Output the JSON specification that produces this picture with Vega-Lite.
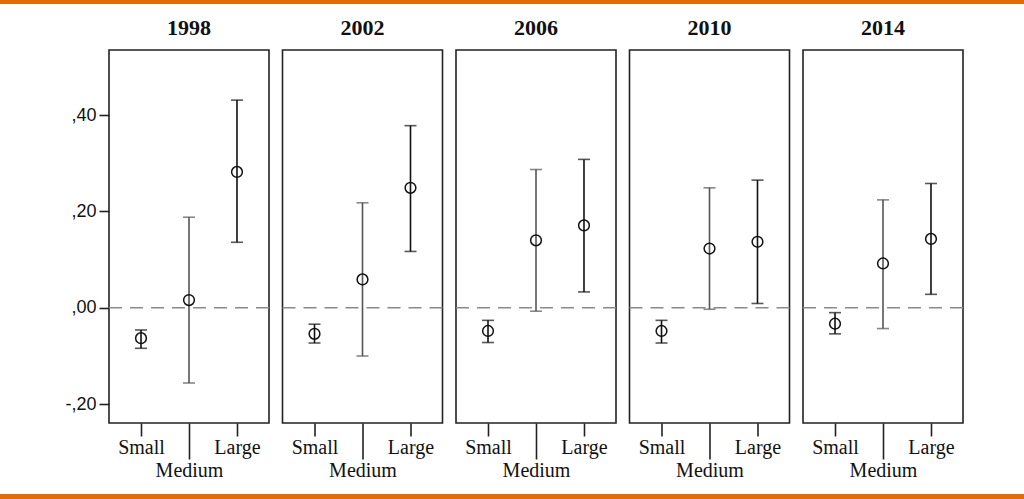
{
  "$schema": "https://vega.github.io/schema/vega-lite/v6.json",
  "padding": 0,
  "background": "white",
  "data": {
    "values": [
      {"year": 1998, "size": "Small", "mean": -0.063, "lo": -0.084, "hi": -0.046},
      {"year": 1998, "size": "Medium", "mean": 0.016, "lo": -0.156, "hi": 0.188},
      {"year": 1998, "size": "Large", "mean": 0.282, "lo": 0.136, "hi": 0.431},
      {"year": 2002, "size": "Small", "mean": -0.054, "lo": -0.073, "hi": -0.034},
      {"year": 2002, "size": "Medium", "mean": 0.059, "lo": -0.1, "hi": 0.218},
      {"year": 2002, "size": "Large", "mean": 0.249, "lo": 0.117, "hi": 0.378},
      {"year": 2006, "size": "Small", "mean": -0.048, "lo": -0.072, "hi": -0.026},
      {"year": 2006, "size": "Medium", "mean": 0.14, "lo": -0.007, "hi": 0.287},
      {"year": 2006, "size": "Large", "mean": 0.171, "lo": 0.033, "hi": 0.308},
      {"year": 2010, "size": "Small", "mean": -0.048, "lo": -0.073, "hi": -0.026},
      {"year": 2010, "size": "Medium", "mean": 0.123, "lo": -0.003, "hi": 0.249},
      {"year": 2010, "size": "Large", "mean": 0.137, "lo": 0.009, "hi": 0.265},
      {"year": 2014, "size": "Small", "mean": -0.033, "lo": -0.054, "hi": -0.01},
      {"year": 2014, "size": "Medium", "mean": 0.092, "lo": -0.043, "hi": 0.224},
      {"year": 2014, "size": "Large", "mean": 0.143, "lo": 0.028, "hi": 0.258}
    ]
  },
  "spacing": 0,
  "vconcat": [
    {
      "spacing": 13,
      "vconcat": [
        {
          "width": 1024,
          "height": 4,
          "view": {"fill": "#E36C0A", "stroke": null},
          "mark": {"type": "point", "size": 0, "opacity": 0},
          "encoding": {}
        },
        {
          "spacing": 0,
          "hconcat": [
            {
              "width": 49,
              "height": 1,
              "view": {"stroke": null},
              "mark": {"type": "point", "size": 0, "opacity": 0},
              "encoding": {}
            },
            {
              "facet": {
                "column": {
                  "field": "year",
                  "type": "ordinal",
                  "header": {
                    "title": null,
                    "labelFont": "Liberation Serif",
                    "labelFontWeight": "bold",
                    "labelFontSize": 22,
                    "labelColor": "#111",
                    "labelPadding": 10
                  }
                }
              },
              "bounds": "flush",
              "spacing": 13.5,
              "spec": {
                "width": 160,
                "height": 373,
                "layer": [
                  {
                    "transform": [{"filter": "datum.size == 'Small'"}],
                    "mark": {"type": "rule", "color": "#8a8a8a", "strokeWidth": 1.6, "strokeDash": [13, 8]},
                    "encoding": {
                      "y": {"datum": 0, "type": "quantitative", "title": null}
                    }
                  },
                  {
                    "mark": {"type": "rule", "strokeWidth": 1.6},
                    "encoding": {
                      "x": {
                        "field": "size",
                        "type": "nominal",
                        "title": null,
                        "scale": {"type": "point", "domain": ["Small", "Medium", "Large"], "padding": 0.667},
                        "axis": {
                          "labelAngle": 0,
                          "labelFont": "Liberation Serif",
                          "labelFontSize": 20,
                          "labelColor": "#111",
                          "tickSize": {"condition": {"test": "datum.value == 'Medium'", "value": 36}, "value": 13},
                          "labelPadding": 1,
                          "minExtent": 71
                        }
                      },
                      "y": {
                        "field": "lo",
                        "type": "quantitative",
                        "title": null,
                        "scale": {"domain": [-0.239, 0.535], "nice": false, "zero": false},
                        "axis": {
                          "values": [-0.2, 0, 0.2, 0.4],
                          "labelExpr": "(datum.value < 0 ? '-' : '') + replace(format(abs(datum.value), '.2f'), '0.', ',')",
                          "labelFont": "Liberation Sans",
                          "labelFontSize": 18,
                          "labelColor": "#111",
                          "tickSize": 10,
                          "labelPadding": 3,
                          "minExtent": 60
                        }
                      },
                      "y2": {"field": "hi"},
                      "color": {"condition": {"test": "datum.size == 'Medium'", "value": "#555"}, "value": "#111"}
                    }
                  },
                  {
                    "mark": {"type": "tick", "size": 12, "thickness": 1.6},
                    "encoding": {
                      "x": {"field": "size", "type": "nominal"},
                      "y": {"field": "lo", "type": "quantitative", "title": null},
                      "color": {"condition": {"test": "datum.size == 'Medium'", "value": "#555"}, "value": "#111"}
                    }
                  },
                  {
                    "mark": {"type": "tick", "size": 12, "thickness": 1.6},
                    "encoding": {
                      "x": {"field": "size", "type": "nominal"},
                      "y": {"field": "hi", "type": "quantitative", "title": null},
                      "color": {"condition": {"test": "datum.size == 'Medium'", "value": "#555"}, "value": "#111"}
                    }
                  },
                  {
                    "mark": {"type": "point", "shape": "circle", "filled": false, "size": 115, "strokeWidth": 1.5, "fill": "white", "fillOpacity": 0},
                    "encoding": {
                      "x": {"field": "size", "type": "nominal"},
                      "y": {"field": "mean", "type": "quantitative", "title": null},
                      "color": {"value": "#111"}
                    }
                  }
                ]
              }
            }
          ]
        }
      ]
    },
    {
      "width": 1024,
      "height": 6,
      "view": {"fill": "#E36C0A", "stroke": null},
      "mark": {"type": "point", "size": 0, "opacity": 0},
      "encoding": {}
    }
  ],
  "config": {
    "view": {"stroke": "#222", "strokeWidth": 1.6},
    "axis": {"grid": false, "domain": false, "tickColor": "#222", "tickWidth": 1.6}
  }
}
